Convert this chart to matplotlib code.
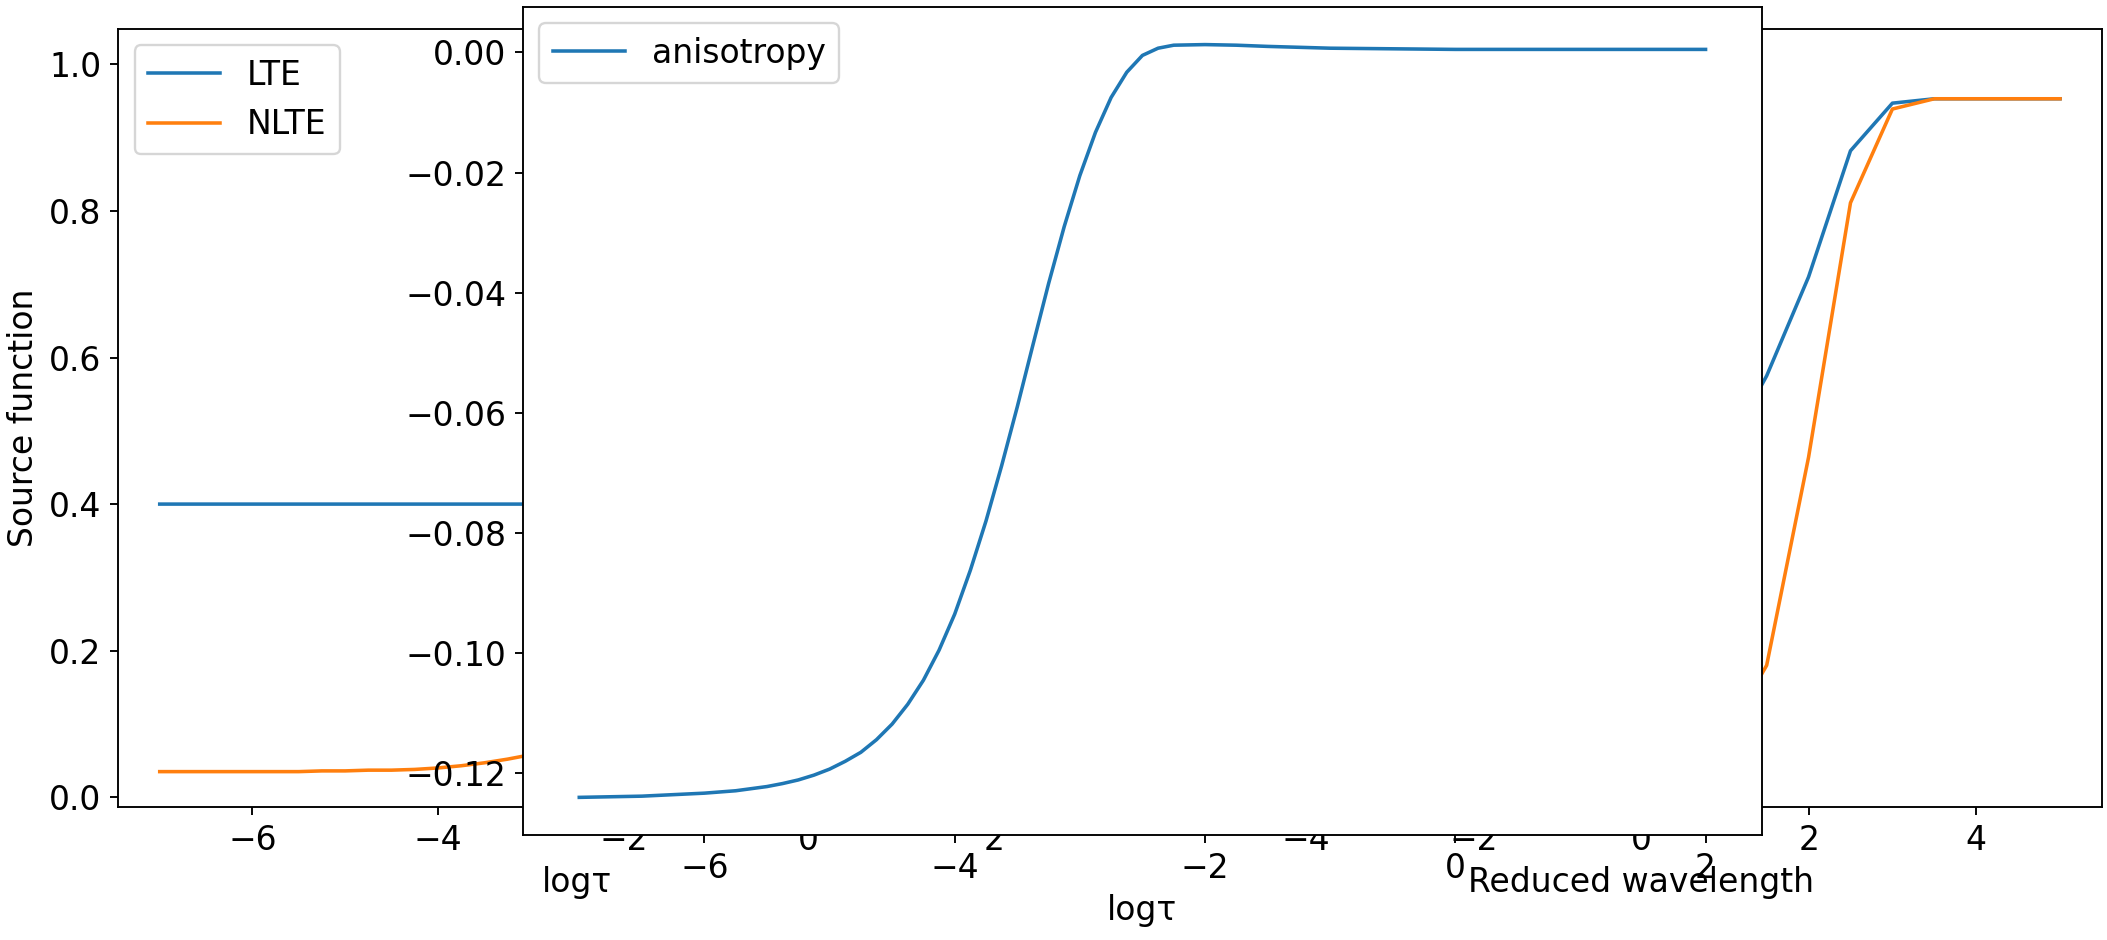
import matplotlib
matplotlib.use("Agg")
import matplotlib.pyplot as plt

# depth grid for the source function panel
log_tau = [-7.0, -6.75, -6.5, -6.25, -6.0, -5.75, -5.5, -5.25, -5.0, -4.75,
           -4.5, -4.25, -4.0, -3.75, -3.5, -3.25, -3.0, -2.75, -2.5, -2.25,
           -2.0, -1.75, -1.5, -1.25, -1.0, -0.75, -0.5, -0.25, 0.0, 0.25,
           0.5, 0.75, 1.0, 1.25, 1.5, 1.75, 2.0]

s_lte = [0.400, 0.400, 0.400, 0.400, 0.400, 0.400, 0.400, 0.400, 0.400, 0.400,
         0.400, 0.400, 0.400, 0.400, 0.400, 0.400, 0.400, 0.400, 0.400, 0.400,
         0.400, 0.400, 0.400, 0.400, 0.401, 0.401, 0.402, 0.403, 0.406, 0.411,
         0.419, 0.434, 0.460, 0.507, 0.590, 0.737, 1.000]

s_nlte = [0.035, 0.035, 0.035, 0.035, 0.035, 0.035, 0.035, 0.036, 0.036, 0.037,
          0.037, 0.038, 0.040, 0.043, 0.047, 0.052, 0.058, 0.066, 0.076, 0.088,
          0.102, 0.118, 0.137, 0.159, 0.184, 0.212, 0.244, 0.280, 0.320, 0.364,
          0.413, 0.468, 0.530, 0.605, 0.700, 0.830, 0.995]

# anisotropy, read on a finer grid where it rises
log_tau_an = [-7.0, -6.5, -6.0, -5.75, -5.5, -5.375, -5.25, -5.125, -5.0, -4.875,
              -4.75, -4.625, -4.5, -4.375, -4.25, -4.125, -4.0, -3.875, -3.75, -3.625,
              -3.5, -3.375, -3.25, -3.125, -3.0, -2.875, -2.75, -2.625, -2.5, -2.375,
              -2.25, -2.0, -1.75, -1.5, -1.0, -0.5, 0.0, 0.5, 1.0, 1.5, 2.0]
anisotropy = [-0.1240, -0.1238, -0.1233, -0.1229, -0.1222, -0.1217, -0.1211, -0.1203, -0.1193, -0.1180,
              -0.1165, -0.1144, -0.1118, -0.1085, -0.1045, -0.0995, -0.0935, -0.0862, -0.0780, -0.0688,
              -0.0590, -0.0487, -0.0385, -0.0290, -0.0205, -0.0133, -0.0075, -0.0033, -0.0005, 0.0007,
              0.0012, 0.0013, 0.0012, 0.0010, 0.0007, 0.0006, 0.0005, 0.0005, 0.0005, 0.0005, 0.0005]

# line profile
wave = [-5.0, -4.5, -4.0, -3.5, -3.0, -2.5, -2.0, -1.5, -1.0, -0.5, 0.0,
        0.5, 1.0, 1.5, 2.0, 2.5, 3.0, 3.5, 4.0, 4.5, 5.0]
prof_lte = [0.953, 0.953, 0.953, 0.953, 0.947, 0.882, 0.710, 0.575, 0.470, 0.420, 0.410,
            0.420, 0.470, 0.575, 0.710, 0.882, 0.947, 0.953, 0.953, 0.953, 0.953]
prof_nlte = [0.953, 0.953, 0.953, 0.953, 0.939, 0.811, 0.464, 0.180, 0.080, 0.050, 0.045,
             0.050, 0.080, 0.180, 0.464, 0.811, 0.939, 0.953, 0.953, 0.953, 0.953]

plt.rcParams['font.size'] = 14
plt.rcParams['legend.handlelength'] = 2.2

fig = plt.figure(figsize=(2107 / 170, 940 / 170), dpi=170)

# source function
ax1 = fig.add_axes([0.0560, 0.1415, 0.4357, 0.8277])
ax1.plot(log_tau, s_lte, label='LTE')
ax1.plot(log_tau, s_nlte, label='NLTE')
ax1.set_xlabel('logτ')
ax1.set_ylabel('Source function')
ax1.legend(loc='upper left')

# profiles
ax2 = fig.add_axes([0.5600, 0.1415, 0.4376, 0.8277], sharey=ax1)
ax2.plot(wave, prof_lte, label='LTE')
ax2.plot(wave, prof_nlte, label='NLTE')
ax2.set_xlabel('Reduced wavelength')

# anisotropy on top
ax3 = fig.add_axes([0.2482, 0.1117, 0.5880, 0.8809])
ax3.plot(log_tau_an, anisotropy, label='anisotropy')
ax3.set_xlabel('logτ')
ax3.legend(loc='upper left')

fig.savefig('out.png', dpi=170)
